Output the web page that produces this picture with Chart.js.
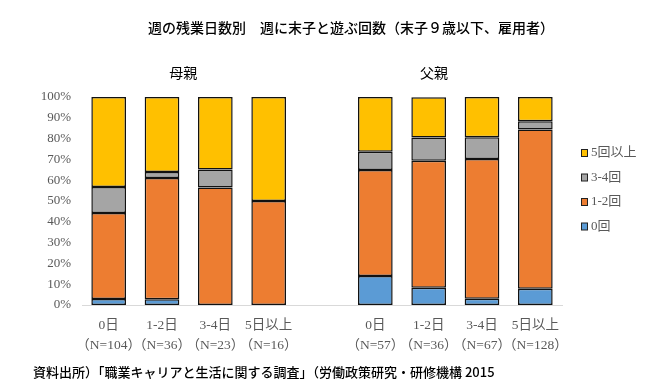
<!DOCTYPE html>
<html>
<head>
<meta charset="utf-8">
<script src="https://cdn.jsdelivr.net/npm/chart.js@4/dist/chart.umd.min.js"></script>
<style>
  html, body { margin: 0; padding: 0; background: #fff; }
  #wrap { width: 671px; height: 387px; }
</style>
</head>
<body>
<div id="wrap"><canvas id="myChart"></canvas></div>
<script>
// categories (empty slot separates mother / father groups)
const labels = [
  ['0日', '（N=104）'], ['1-2日', '（N=36）'], ['3-4日', '（N=23）'], ['5日以上', '（N=16）'],
  '',
  ['0日', '（N=57）'], ['1-2日', '（N=36）'], ['3-4日', '（N=67）'], ['5日以上', '（N=128）']
];
const groupNames = ['母親', '父親'];

// percentages
const play0 = [2.9, 2.8, 0, 0, null, 14.0, 8.3, 3.0, 7.8];
const play12 = [41.3, 58.3, 56.5, 50.0, null, 50.9, 61.1, 67.2, 76.6];
const play34 = [12.5, 2.8, 8.7, 0, null, 8.8, 11.1, 10.4, 3.9];
const play5 = [43.3, 36.1, 34.8, 50.0, null, 26.3, 19.4, 19.4, 11.7];

const seriesNames = ['0回', '1-2回', '3-4回', '5回以上'];
const colors = ['#5B9BD5', '#ED7D31', '#A5A5A5', '#FFC000'];

const yTicks = [0, 10, 20, 30, 40, 50, 60, 70, 80, 90, 100];

const titleText = '週の残業日数別　週に末子と遊ぶ回数（末子９歳以下、雇用者）';
const sourceText = '資料出所）「職業キャリアと生活に関する調査」（労働政策研究・研修機構 2015';

const serif = "'Liberation Serif', 'Noto Sans CJK JP', serif";
const gothic = "'Noto Sans CJK JP', sans-serif";

const extras = {
  id: 'extras',
  afterDraw(chart) {
    const c = chart.ctx;
    const x = chart.scales.x;
    c.save();
    c.fillStyle = '#000';
    c.textBaseline = 'middle';
    c.textAlign = 'center';
    c.font = '500 14px ' + gothic;
    c.fillText(titleText, 351, 28);
    c.font = '14px ' + gothic;
    c.fillText(groupNames[0], x.getPixelForValue(1.4), 73);
    c.fillText(groupNames[1], x.getPixelForValue(6.1), 73);
    c.textAlign = 'left';
    c.font = '500 13px ' + gothic;
    c.fillText(sourceText, 33, 372);

    // legend, reversed order
    c.font = '13px ' + serif;
    for (let i = 0; i < seriesNames.length; i++) {
      const k = seriesNames.length - 1 - i;
      const y = 153 + i * 24.5;
      c.fillStyle = colors[k];
      c.fillRect(581, y - 3.5, 7, 7);
      c.strokeStyle = '#222';
      c.lineWidth = 1;
      c.strokeRect(581.5, y - 3.5, 6, 7);
      c.fillStyle = '#595959';
      c.fillText(seriesNames[k], 591, y);
    }
    c.restore();
  }
};

const data = {
  labels,
  datasets: [play0, play12, play34, play5].map((d, i) => ({
    label: seriesNames[i],
    data: d,
    backgroundColor: colors[i],
    borderColor: '#111',
    borderWidth: 1.5,
    borderSkipped: false,
    categoryPercentage: 1,
    barPercentage: 0.65
  }))
};

const config = {
  type: 'bar',
  data,
  options: {
    responsive: true,
    maintainAspectRatio: false,
    animation: false,
    layout: { padding: { top: 97, right: 109, bottom: 0, left: 0 } },
    plugins: {
      legend: { display: false },
      tooltip: { enabled: false }
    },
    scales: {
      x: {
        stacked: true,
        grid: { display: false, drawTicks: false },
        border: { color: '#d9d9d9', width: 1 },
        ticks: {
          color: '#595959',
          font: { family: serif, size: 13.5, lineHeight: 1.5 },
          padding: 10,
          maxRotation: 0,
          autoSkip: false
        },
        afterFit(scale) { scale.height = 82; }
      },
      y: {
        stacked: true,
        min: 0,
        max: 100,
        grid: { display: false, drawTicks: false },
        border: { display: false },
        afterBuildTicks(scale) { scale.ticks = yTicks.map(v => ({ value: v })); },
        ticks: {
          color: '#595959',
          font: { family: serif, size: 13 },
          padding: 11,
          callback: v => v + '%'
        },
        afterFit(scale) { scale.width = 82; }
      }
    }
  },
  plugins: [extras]
};

new Chart(document.getElementById('myChart'), config);
</script>
</body>
</html>
